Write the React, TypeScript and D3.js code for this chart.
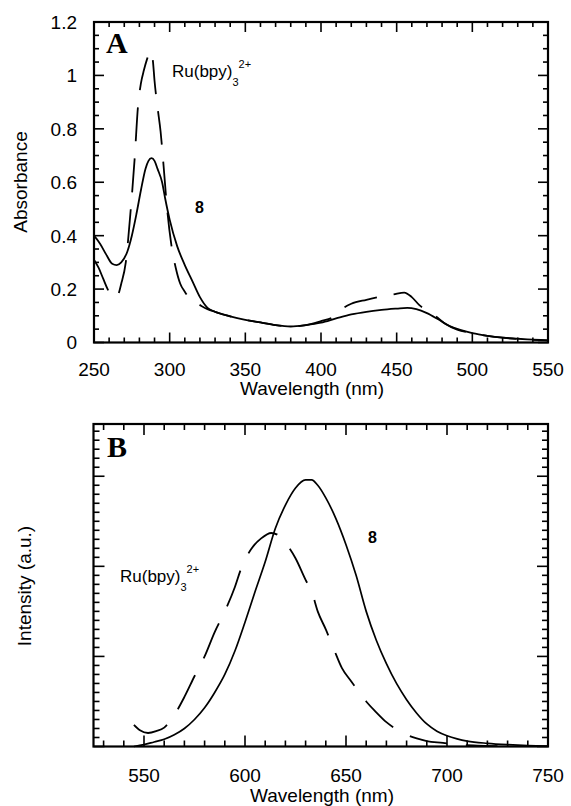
import React from "react";
import * as d3 from "d3";

// Panel A: absorbance
const absWl8 = [250, 254, 258, 262, 265, 268, 272, 275, 278, 281, 284, 286, 288, 290, 292, 295, 297, 300, 305, 310, 315, 320, 325, 330, 340, 350, 360, 370, 380, 390, 400, 410, 420, 430, 440, 450, 457, 463, 470, 478, 485, 492, 500, 510, 520, 530, 540, 550];
const absVal8 = [0.40, 0.37, 0.33, 0.295, 0.29, 0.30, 0.34, 0.40, 0.48, 0.57, 0.65, 0.68, 0.69, 0.68, 0.65, 0.60, 0.54, 0.46, 0.36, 0.29, 0.23, 0.17, 0.13, 0.115, 0.098, 0.085, 0.075, 0.065, 0.06, 0.065, 0.074, 0.09, 0.105, 0.115, 0.122, 0.127, 0.13, 0.125, 0.11, 0.085, 0.062, 0.047, 0.035, 0.025, 0.018, 0.014, 0.011, 0.008];

const absWlRu = [250, 253, 256, 259, 262, 265, 268, 271, 274, 277, 279, 281, 283, 285, 287, 288, 289, 290, 292, 294, 296, 298, 301, 304, 307, 310, 314, 320, 325, 330, 340, 350, 360, 370, 380, 390, 400, 408, 415, 420, 430, 440, 448, 455, 460, 465, 470, 476, 482, 490, 500, 510, 520, 530, 540, 550];
const absValRu = [0.31, 0.28, 0.24, 0.20, 0.17, 0.17, 0.22, 0.30, 0.48, 0.70, 0.88, 0.97, 1.02, 1.06, 1.09, 1.09, 1.05, 0.98, 0.88, 0.79, 0.66, 0.52, 0.37, 0.28, 0.22, 0.19, 0.16, 0.14, 0.125, 0.115, 0.098, 0.085, 0.075, 0.065, 0.06, 0.065, 0.08, 0.095, 0.13, 0.145, 0.16, 0.172, 0.18, 0.187, 0.17, 0.14, 0.12, 0.097, 0.07, 0.048, 0.035, 0.025, 0.018, 0.013, 0.01, 0.008];

// Panel B: emission
const emWl8 = [545, 550, 555, 560, 565, 570, 575, 580, 585, 590, 595, 600, 605, 610, 615, 620, 625, 630, 633, 636, 640, 645, 650, 655, 660, 665, 670, 675, 680, 685, 690, 695, 700, 705, 710, 720, 730, 740, 750];
const emVal8 = [0.0, 0.02, 0.05, 0.08, 0.13, 0.2, 0.3, 0.43, 0.6, 0.8, 1.06, 1.38, 1.72, 2.05, 2.42, 2.68, 2.87, 2.96, 2.96, 2.9, 2.76, 2.53, 2.24, 1.9, 1.5, 1.18, 0.92, 0.7, 0.52, 0.37, 0.25, 0.17, 0.12, 0.085, 0.06, 0.035, 0.02, 0.01, 0.005];

const emWlRu = [545, 548, 552, 556, 560, 565, 570, 575, 580, 585, 590, 595, 598, 603, 608, 613, 618, 622, 625, 630, 633, 636, 640, 644, 648, 652, 656, 660, 665, 670, 675, 680, 685, 690, 698, 705, 715, 725];
const emValRu = [0.24, 0.18, 0.15, 0.17, 0.21, 0.35, 0.55, 0.78, 1.0, 1.27, 1.5, 1.77, 1.97, 2.19, 2.31, 2.37, 2.32, 2.2, 2.09, 1.85, 1.72, 1.5, 1.3, 1.08, 0.87, 0.74, 0.62, 0.5, 0.38, 0.27, 0.19, 0.13, 0.09, 0.06, 0.04, 0.02, 0.01, 0.005];

const absYTicks = [0, 0.2, 0.4, 0.6, 0.8, 1, 1.2];
const absXTicks = [250, 300, 350, 400, 450, 500, 550];
const emXTicks = [550, 600, 650, 700, 750];

const SANS = "'Liberation Sans', Arial, Helvetica, sans-serif";
const SERIF = "'Liberation Serif', 'Times New Roman', serif";

type Pt = [number, number];
const zip = (a: number[], b: number[]): Pt[] => a.map((v, i) => [v, b[i]]);

function Frame({ x, y, xMinor, xMajor, yMinor, yMajor, majLen, minLen }: any) {
  const [x0, x1] = x.range();
  const [y0, y1] = y.range(); // y0 bottom, y1 top
  const els: any[] = [];
  xMinor.forEach((t: number, i: number) => {
    const len = xMajor.includes(t) ? majLen : minLen;
    const px = x(t);
    els.push(<line key={"xb" + i} x1={px} x2={px} y1={y0} y2={y0 - len} />);
    els.push(<line key={"xt" + i} x1={px} x2={px} y1={y1} y2={y1 + len} />);
  });
  yMinor.forEach((t: number, i: number) => {
    const major = yMajor.some((m: number) => Math.abs(m - t) < 1e-6);
    const len = major ? majLen : minLen;
    const py = y(t);
    els.push(<line key={"yl" + i} x1={x0} x2={x0 + len} y1={py} y2={py} />);
    els.push(<line key={"yr" + i} x1={x1} x2={x1 - len} y1={py} y2={py} />);
  });
  return (
    <g stroke="#000" strokeWidth={1.6}>
      {els}
      <rect x={x0} y={y1} width={x1 - x0} height={y0 - y1} fill="none" strokeWidth={2.2} />
    </g>
  );
}

export default function App() {
  // Panel A scales
  const xA = d3.scaleLinear().domain([250, 550]).range([94, 548]);
  const yA = d3.scaleLinear().domain([0, 1.2]).range([342.5, 22]);
  // Panel B scales
  const xB = d3.scaleLinear().domain([525, 750]).range([93.5, 548]);
  const yB = d3.scaleLinear().domain([0, 3.58]).range([746.5, 424]);

  const lineA = d3.line<Pt>().x((d) => xA(d[0])).y((d) => yA(d[1])).curve(d3.curveMonotoneX);
  const lineB = d3.line<Pt>().x((d) => xB(d[0])).y((d) => yB(d[1])).curve(d3.curveMonotoneX);

  const xAminor = d3.range(250, 551, 10);
  const yAminor = d3.range(0, 1.2001, 0.05).map((v) => +v.toFixed(3));
  const xBminor = d3.range(530, 751, 10);
  const yBminor = d3.range(0, 3.58, 0.1).map((v) => +v.toFixed(3));
  const yBmajor = [0, 1, 2, 3];

  return (
    <svg width={571} height={806} style={{ position: "absolute", left: 0, top: 0, background: "#fff" }} fontFamily={SANS}>
      {/* Panel A */}
      <Frame x={xA} y={yA} xMinor={xAminor} xMajor={absXTicks} yMinor={yAminor} yMajor={absYTicks} majLen={10} minLen={5} />
      <path d={lineA(zip(absWl8, absVal8)) || ""} fill="none" stroke="#000" strokeWidth={1.8} />
      <path d={lineA(zip(absWlRu, absValRu)) || ""} fill="none" stroke="#000" strokeWidth={1.8} strokeDasharray="34,17" />
      {absYTicks.map((t) => (
        <text key={"ya" + t} x={77} y={yA(t)} dy="0.36em" textAnchor="end" fontSize={19}>{String(t)}</text>
      ))}
      {absXTicks.map((t) => (
        <text key={"xa" + t} x={xA(t)} y={376} textAnchor="middle" fontSize={19}>{t}</text>
      ))}
      <text x={312} y={395} textAnchor="middle" fontSize={19}>Wavelength (nm)</text>
      <text transform="translate(27,182) rotate(-90)" textAnchor="middle" fontSize={19}>Absorbance</text>
      <text x={106} y={53} fontFamily={SERIF} fontWeight="bold" fontSize={30}>A</text>
      <text x={172} y={77} fontSize={17}>Ru(bpy)<tspan fontSize={11} dy={9}>3</tspan><tspan fontSize={11} dy={-18}>2+</tspan></text>
      <text x={195} y={213} fontSize={16} fontWeight="bold">8</text>

      {/* Panel B */}
      <Frame x={xB} y={yB} xMinor={xBminor} xMajor={emXTicks} yMinor={yBminor} yMajor={yBmajor} majLen={11} minLen={6} />
      <path d={lineB(zip(emWl8, emVal8)) || ""} fill="none" stroke="#000" strokeWidth={1.7} />
      <path d={lineB(zip(emWlRu, emValRu)) || ""} fill="none" stroke="#000" strokeWidth={1.8} strokeDasharray="38,19" />
      {emXTicks.map((t) => (
        <text key={"xb" + t} x={xB(t)} y={782} textAnchor="middle" fontSize={19}>{t}</text>
      ))}
      <text x={322} y={802} textAnchor="middle" fontSize={19}>Wavelength (nm)</text>
      <text transform="translate(31,586) rotate(-90)" textAnchor="middle" fontSize={19}>Intensity (a.u.)</text>
      <text x={107} y={457} fontFamily={SERIF} fontWeight="bold" fontSize={30}>B</text>
      <text x={120} y={582} fontSize={17}>Ru(bpy)<tspan fontSize={11} dy={9}>3</tspan><tspan fontSize={11} dy={-18}>2+</tspan></text>
      <text x={368} y={543} fontSize={16} fontWeight="bold">8</text>
    </svg>
  );
}
